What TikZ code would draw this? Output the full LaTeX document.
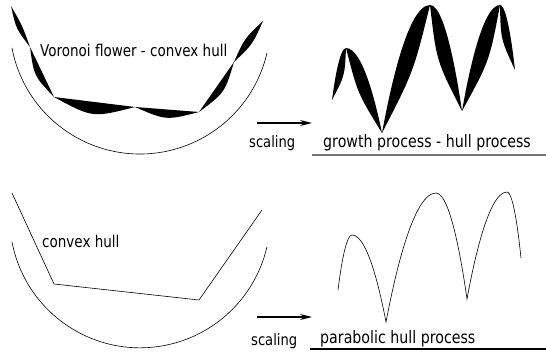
\documentclass[tikz,border=0pt]{standalone}
\usepackage{fontspec}
\setmainfont{DejaVu Sans}
\usetikzlibrary{calc,arrows.meta}
\newcommand\mylens[4]{\fill[black] (#1) .. controls ($(#1)!.5!(#2)!#3pt!90:(#2)$) .. (#2) .. controls ($(#1)!.5!(#2)!#4pt!90:(#2)$) .. (#1) -- cycle;}
% black arm between a half parabola (apex #1, end #2) and an inner curve;
% #3 = left point, #4 = right point of the arm, #5 = offset of inner curve
\newcommand\myarm[5]{\fill[black] (#1) parabola (#2) .. controls ($(#3)!.5!(#4)!#5pt!90:(#4)$) .. (#1) -- cycle;}
\newcommand\tall[1]{\scalebox{1}[1.2]{#1}}
\tikzset{
  thinline/.style={line width=0.6pt, black},
  label/.style={anchor=base west, inner sep=0pt, font=\fontsize{13.5}{16}\selectfont},
  rlabel/.style={anchor=base west, inner sep=0pt, font=\fontsize{14.2}{16}\selectfont},
  scalearrow/.style={line width=1.2pt, -{Stealth[length=12pt,width=6pt]}},
  baseline/.style={line width=1.1pt}
}
\begin{document}
\begin{tikzpicture}[x=1pt,y=-1pt]
\useasboundingbox (0,0) rectangle (546,355);
% ---------- top left: Voronoi flower ----------
\coordinate (A) at (11,6);
\coordinate (B) at (30,47);
\coordinate (C) at (54,97);
\coordinate (D) at (135,107);
\coordinate (E) at (199,112);
\coordinate (F) at (234,62);
\coordinate (G) at (263,21);
\mylens{A}{B}{-5}{2}
\mylens{B}{C}{-9}{0}
\mylens{C}{D}{-16}{0}
\mylens{D}{E}{-11}{0}
\mylens{E}{F}{-10}{0}
\mylens{F}{G}{-5}{5}
\coordinate (c1) at (140,23.7);
\draw[thinline] (c1) ++(190.7:130.3pt) arc[start angle=190.7, end angle=347, radius=130.3pt];
\node[label] (t1) at (40,57) {\tall{Voronoi flower - convex hull}};
% ---------- bottom left: convex hull ----------
\coordinate (H1) at (12,193);
\coordinate (H2) at (54,284);
\coordinate (H3) at (199,300);
\coordinate (H4) at (262,210);
\draw[thinline] (H1) -- (H2) -- (H3) -- (H4);
\coordinate (c2) at (140,217.5);
\draw[thinline] (c2) ++(190.7:130.3pt) arc[start angle=190.7, end angle=347, radius=130.3pt];
\node[label] (t2) at (42,248) {\tall{convex hull}};
% ---------- arrows ----------
\coordinate (a1s) at (257,123);
\coordinate (a1e) at (312,123);
\draw[scalearrow] (a1s) -- (a1e);
\node[label, font=\fontsize{13.1}{16}\selectfont] (s1) at (249,147.5) {\tall{scaling}};
\coordinate (a2s) at (257,317);
\coordinate (a2e) at (312,317);
\draw[scalearrow] (a2s) -- (a2e);
\node[label, font=\fontsize{13.1}{16}\selectfont] (s2) at (251,345) {\tall{scaling}};
% ---------- top right: growth process ----------
\coordinate (L) at (332,100);
\coordinate (P1) at (346,48);
\coordinate (V1) at (382,133);
\coordinate (P2) at (430,5);
\coordinate (V2) at (462,111);
\coordinate (P3) at (500,5);
\coordinate (R) at (515,70);
\myarm{P1}{L}{L}{P1}{-6}
\myarm{P1}{V1}{P1}{V1}{-7}
\myarm{P2}{V1}{V1}{P2}{-8}
\myarm{P2}{V2}{P2}{V2}{-10}
\myarm{P3}{V2}{V2}{P3}{-9}
\myarm{P3}{R}{P3}{R}{-7}
\node[rlabel] (t3) at (323,148) {\tall{growth process - hull process}};
\coordinate (u1s) at (312,155);
\coordinate (u1e) at (546,155);
\draw[baseline, black!55] (u1s) -- (u1e);
% ---------- bottom right: parabolic hull ----------
\coordinate (LL) at (338,290);
\coordinate (Q1) at (352,235);
\coordinate (W1) at (386,322);
\coordinate (Q2) at (436,193);
\coordinate (W2) at (467,299);
\coordinate (Q3) at (507,192);
\coordinate (RR) at (521,258);
\draw[thinline] (LL) parabola bend (Q1) (W1) parabola bend (Q2) (W2) parabola bend (Q3) (RR);
\node[rlabel] (t4) at (320,343) {\tall{parabolic hull process}};
\coordinate (u2s) at (310,349);
\coordinate (u2e) at (546,349);
\draw[baseline] (u2s) -- (u2e);
\end{tikzpicture}
\end{document}
